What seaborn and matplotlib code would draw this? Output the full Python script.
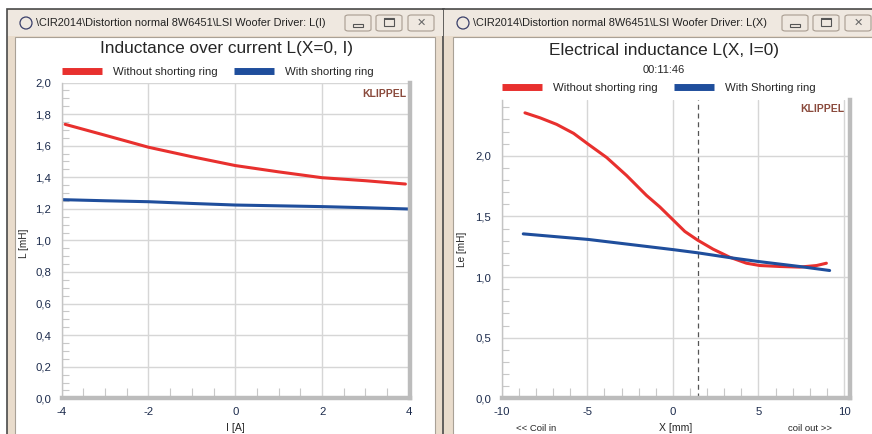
import numpy as np
import pandas as pd
import seaborn as sns
import matplotlib.pyplot as plt
from matplotlib.patches import Rectangle, FancyBboxPatch, Ellipse
from matplotlib.ticker import MultipleLocator, FuncFormatter

# --- data ---
# left window: inductance over current at X=0
current_red = [-3.92, -3, -2, -1, 0, 1, 2, 3, 3.92]
l_without_ring = [1.735, 1.666, 1.59, 1.53, 1.474, 1.434, 1.397, 1.378, 1.357]
current_blue = [-3.98, -3, -2, -1, 0, 1, 2, 3, 3.98]
l_with_ring = [1.258, 1.251, 1.245, 1.234, 1.224, 1.219, 1.214, 1.207, 1.199]

# right window: inductance over displacement at I=0
x_red = [-8.64, -7.76, -6.79, -5.8, -4.94, -3.87, -2.7, -1.54, -0.76, 0.02,
         0.7, 1.44, 2.35, 3.33, 4.3, 5.08, 6.25, 7.4, 8.4, 8.97]
le_without_ring = [2.354, 2.313, 2.259, 2.185, 2.095, 1.986, 1.837, 1.673, 1.578, 1.47,
                   1.376, 1.305, 1.23, 1.163, 1.114, 1.095, 1.087, 1.082, 1.095, 1.114]
x_blue = [-8.74, -4.94, 0.02, 1.44, 3.33, 5.0, 7.4, 9.16]
le_with_ring = [1.356, 1.31, 1.226, 1.2, 1.16, 1.128, 1.087, 1.054]
x_marker = 1.44

RED = '#e8302e'
BLUE = '#1f4e9c'
GRID = '#d6d6d6'
FRAME = '#bcbcbc'
TICKTXT = '#1c2b4c'

sns.set_style('white')
plt.rcParams['font.family'] = ['Liberation Sans', 'DejaVu Sans']

W, H = 872, 434
fig = plt.figure(figsize=(W / 100, H / 100), dpi=100)


def px_rect(x, y, w, h, **kw):
    kw.setdefault('zorder', -5)
    return Rectangle((x / W, 1 - (y + h) / H), w / W, h / H,
                     transform=fig.transFigure, **kw)


def fx(x):
    return x / W


def fy(y):
    return 1 - y / H


# --- window chrome (behind the axes) ---
for x0, x1 in [(7, 444), (443, 880)]:
    fig.add_artist(px_rect(x0, 9, x1 - x0, 430, facecolor='#e9dccc', edgecolor='#4a4a4a', lw=1.2, zorder=-9))
    fig.add_artist(px_rect(x0 + 1, 10, x1 - x0 - 2, 26, facecolor='#efe8e0', edgecolor='none', zorder=-8))
fig.add_artist(px_rect(15, 37, 420, 400, facecolor='white', edgecolor='#a9a196', lw=0.8, zorder=-7))
fig.add_artist(px_rect(453, 37, 430, 400, facecolor='white', edgecolor='#a9a196', lw=0.8, zorder=-7))

titles = [(26, '\\CIR2014\\Distortion normal 8W6451\\LSI Woofer Driver: L(I)', [345, 376, 408]),
          (463, '\\CIR2014\\Distortion normal 8W6451\\LSI Woofer Driver: L(X)', [782, 813, 845])]
for cx, txt, buttons in titles:
    fig.add_artist(Ellipse((fx(cx), fy(23)), 12 / W, 12 / H, transform=fig.transFigure,
                           facecolor='none', edgecolor='#3a3f6a', lw=0.9, zorder=-4))
    fig.text(fx(cx + 10), fy(23), txt, fontsize=7.95, color='#222222', va='center', ha='left')
    for i, bx in enumerate(buttons):
        fig.add_artist(FancyBboxPatch((fx(bx), fy(31)), 26 / W, 16 / H, transform=fig.transFigure,
                                      boxstyle='round,pad=0,rounding_size=0.004',
                                      facecolor='#efe8e0', edgecolor='#a89c90', lw=0.8, zorder=-4))
        if i == 0:
            fig.add_artist(px_rect(bx + 8, 24, 10, 3, facecolor='none', edgecolor='#555555', lw=0.8, zorder=-3))
        elif i == 1:
            fig.add_artist(px_rect(bx + 8, 18, 10, 8, facecolor='none', edgecolor='#555555', lw=0.8, zorder=-3))
            fig.add_artist(px_rect(bx + 8, 18, 10, 2, facecolor='#555555', edgecolor='none', zorder=-3))
        else:
            fig.text(fx(bx + 13), fy(23), '✕', fontsize=8, color='#666666',
                     ha='center', va='center', family=['DejaVu Sans'])

# --- axes ---
ax1 = fig.add_axes([fx(61.7), fy(398.3), fx(409.3 - 61.7) + 0.0005, fy(82.5) - fy(398.3)])
ax2 = fig.add_axes([fx(501.7), fy(398.3), fx(850 - 501.7), fy(100) - fy(398.3)])

left = pd.DataFrame({'I': current_red, 'L': l_without_ring})
left_b = pd.DataFrame({'I': current_blue, 'L': l_with_ring})
sns.lineplot(data=left, x='I', y='L', ax=ax1, color=RED, lw=2.2, label='Without shorting ring')
sns.lineplot(data=left_b, x='I', y='L', ax=ax1, color=BLUE, lw=2.2, label='With shorting ring')

right = pd.DataFrame({'X': x_red, 'Le': le_without_ring})
right_b = pd.DataFrame({'X': x_blue, 'Le': le_with_ring})
sns.lineplot(data=right, x='X', y='Le', ax=ax2, color=RED, lw=2.2, label='Without shorting ring')
sns.lineplot(data=right_b, x='X', y='Le', ax=ax2, color=BLUE, lw=2.2, label='With Shorting ring')
ax2.axvline(x_marker, color='#555555', lw=0.9, ls=(0, (4, 3)), zorder=1)

ax1.set_xlim(-4, 4.02)
ax1.set_ylim(0, 2.0)
ax1.xaxis.set_major_locator(MultipleLocator(2))
ax1.xaxis.set_minor_locator(MultipleLocator(0.5))
ax1.yaxis.set_major_locator(MultipleLocator(0.2))
ax1.yaxis.set_minor_locator(MultipleLocator(0.05))

ax2.set_xlim(-10, 10.35)
ax2.set_ylim(0, 2.46)
ax2.xaxis.set_major_locator(MultipleLocator(5))
ax2.xaxis.set_minor_locator(MultipleLocator(1))
ax2.yaxis.set_major_locator(MultipleLocator(0.5))
ax2.yaxis.set_minor_locator(MultipleLocator(0.1))

comma = FuncFormatter(lambda v, p: f'{v:.1f}'.replace('.', ','))
for ax in (ax1, ax2):
    ax.set_facecolor('white')
    ax.yaxis.set_major_formatter(comma)
    ax.xaxis.set_major_formatter(FuncFormatter(lambda v, p: f'{v:g}'))
    ax.grid(True, which='major', color=GRID, lw=1.0)
    ax.set_axisbelow(True)
    ax.spines['top'].set_visible(False)
    ax.spines['left'].set_color('#c4c4c4')
    ax.spines['left'].set_linewidth(1.0)
    for s in ('bottom', 'right'):
        ax.spines[s].set_color(FRAME)
        ax.spines[s].set_linewidth(3.2)
    ax.tick_params(which='major', direction='out', length=5, width=0.8, color='#a0a0a0',
                   labelsize=8.2, labelcolor=TICKTXT, pad=1.5)
    ax.tick_params(axis='y', which='minor', direction='in', length=5, width=0.8, color='#c8c8c8', left=True)
    ax.tick_params(axis='x', which='minor', direction='in', length=7, width=0.8, color='#c8c8c8', bottom=True)
    ax.tick_params(axis='y', which='major', length=6)
    ax.set_xlabel('')
    ax.set_ylabel('')

ax1.set_ylabel('L [mH]', fontsize=7.2)
ax1.yaxis.set_label_coords(-0.095, 0.49)
ax1.set_xlabel('I [A]', fontsize=7.6)
ax1.xaxis.set_label_coords(0.5, -0.094)
ax2.set_ylabel('Le [mH]', fontsize=7.2)
ax2.yaxis.set_label_coords(-0.10, 0.5)
ax2.set_xlabel('X [mm]', fontsize=7.6)
ax2.xaxis.set_label_coords(0.5, -0.1)
ax2.text(0.1, -0.1, '<< Coil in', transform=ax2.transAxes, fontsize=6.8, ha='center', va='center')
ax2.text(0.885, -0.1, 'coil out >>', transform=ax2.transAxes, fontsize=6.8, ha='center', va='center')
for ax in (ax1, ax2):
    ax.xaxis.label.set_va('center')

fig.text(fx(226), fy(48), 'Inductance over current L(X=0, I)', fontsize=12.4, ha='center', va='center')
fig.text(fx(664), fy(50), 'Electrical inductance L(X, I=0)', fontsize=12.4, ha='center', va='center')
fig.text(fx(664), fy(70), '00:11:46', fontsize=8, ha='center', va='center')

ax1.text(0.99, 0.963, 'KLIPPEL', transform=ax1.transAxes, fontsize=7.5, fontweight='bold',
         color='#8a4a3c', ha='right', va='center')
ax2.text(0.985, 0.97, 'KLIPPEL', transform=ax2.transAxes, fontsize=7.5, fontweight='bold',
         color='#8a4a3c', ha='right', va='center')

for ax, yy in ((ax1, 1.033), (ax2, 1.04)):
    leg = ax.legend(loc='center left', bbox_to_anchor=(0, yy), ncol=2, frameon=False,
                    fontsize=8.2, handlelength=3.55, handletextpad=0.95, columnspacing=1.4,
                    borderaxespad=0, borderpad=0)
    for h in leg.legend_handles:
        h.set_linewidth(5)
        h.set_solid_capstyle('butt')

fig.savefig('out.png', dpi=100, facecolor='white')
